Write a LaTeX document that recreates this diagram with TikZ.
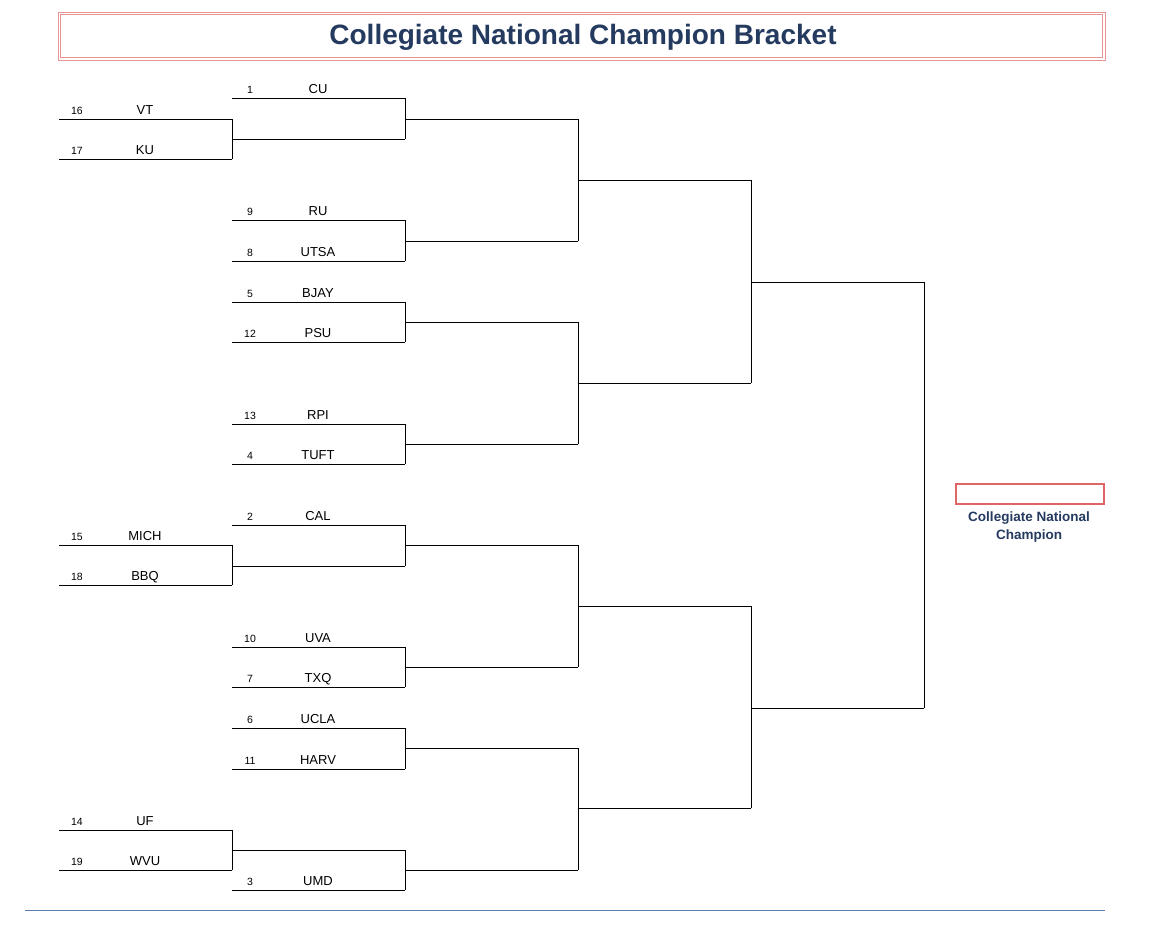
\documentclass[tikz,border=0pt]{standalone}
\usepackage{fontspec}
\setmainfont{Liberation Sans}
\usetikzlibrary{calc}
\definecolor{navy}{HTML}{243A5E}
\definecolor{boxred}{HTML}{E06666}
\definecolor{rule}{HTML}{5B7FA8}
\tikzset{
  seed/.style={anchor=base,font=\fontsize{10.5}{12}\selectfont,inner sep=0pt},
  team/.style={anchor=base,font=\fontsize{13}{14}\selectfont,inner sep=0pt},
  slot/.style={line width=0.7pt,black},
  bracketjoin/.style={line width=0.7pt,black}
}
% slot line with seed and team name
\newcommand{\slotline}[4]{%
  \draw[slot] (#1,#2) -- ++(173,0);
  \node[seed] at ($(#1,#2)+(18,-5)$) {#3};
  \node[team] at ($(#1,#2)+(86,-5)$) {#4};
}
\begin{document}
\begin{tikzpicture}[x=1pt,y=-1pt]
  \useasboundingbox (0,0) rectangle (1152,942);

  % title
  \draw[boxred!70,line width=0.8pt] (58,12) rectangle (1105,60);
  \draw[boxred!70,line width=0.8pt] (60.5,14.5) rectangle (1102.5,57.5);
  \node[font=\bfseries\fontsize{28}{30}\selectfont,text=navy] (title) at (583,37) {Collegiate National Champion Bracket};

  % first round
  \slotline{59}{119}{16}{VT}
  \slotline{59}{159}{17}{KU}
  \slotline{59}{545}{15}{MICH}
  \slotline{59}{585}{18}{BBQ}
  \slotline{59}{830}{14}{UF}
  \slotline{59}{870}{19}{WVU}

  % second round
  \slotline{232}{98}{1}{CU}
  \draw[slot] (232,139) -- ++(173,0);
  \slotline{232}{220}{9}{RU}
  \slotline{232}{261}{8}{UTSA}
  \slotline{232}{302}{5}{BJAY}
  \slotline{232}{342}{12}{PSU}
  \slotline{232}{424}{13}{RPI}
  \slotline{232}{464}{4}{TUFT}
  \slotline{232}{525}{2}{CAL}
  \draw[slot] (232,566) -- ++(173,0);
  \slotline{232}{647}{10}{UVA}
  \slotline{232}{687}{7}{TXQ}
  \slotline{232}{728}{6}{UCLA}
  \slotline{232}{769}{11}{HARV}
  \draw[slot] (232,850) -- ++(173,0);
  \slotline{232}{890}{3}{UMD}

  % joins
  \foreach \a/\b in {119/159,545/585,830/870}
    \draw[bracketjoin] (232,\a) -- (232,\b);
  \foreach \a/\b in {98/139,220/261,302/342,424/464,525/566,647/687,728/769,850/890}
    \draw[bracketjoin] (405,\a) -- (405,\b);
  \foreach \y in {119,241,322,444,545,667,748,870}
    \draw[slot] (405,\y) -- ++(173,0);
  \foreach \a/\b in {119/241,322/444,545/667,748/870}
    \draw[bracketjoin] (578,\a) -- (578,\b);
  \foreach \y in {180,383,606,808}
    \draw[slot] (578,\y) -- ++(173,0);
  \foreach \a/\b in {180/383,606/808}
    \draw[bracketjoin] (751,\a) -- (751,\b);
  \foreach \y in {282,708}
    \draw[slot] (751,\y) -- ++(173,0);
  \draw[bracketjoin] (924,282) -- (924,708);

  % champion
  \draw[boxred,line width=1.3pt] (956,484) rectangle (1104,504);
  \node[font=\bfseries\fontsize{13.5}{18}\selectfont,text=navy,align=center] (champ) at (1029,527) {Collegiate National\\Champion};

  % footer rule
  \draw[rule,line width=0.8pt] (25,910) -- (1105,910);
\end{tikzpicture}
\end{document}
